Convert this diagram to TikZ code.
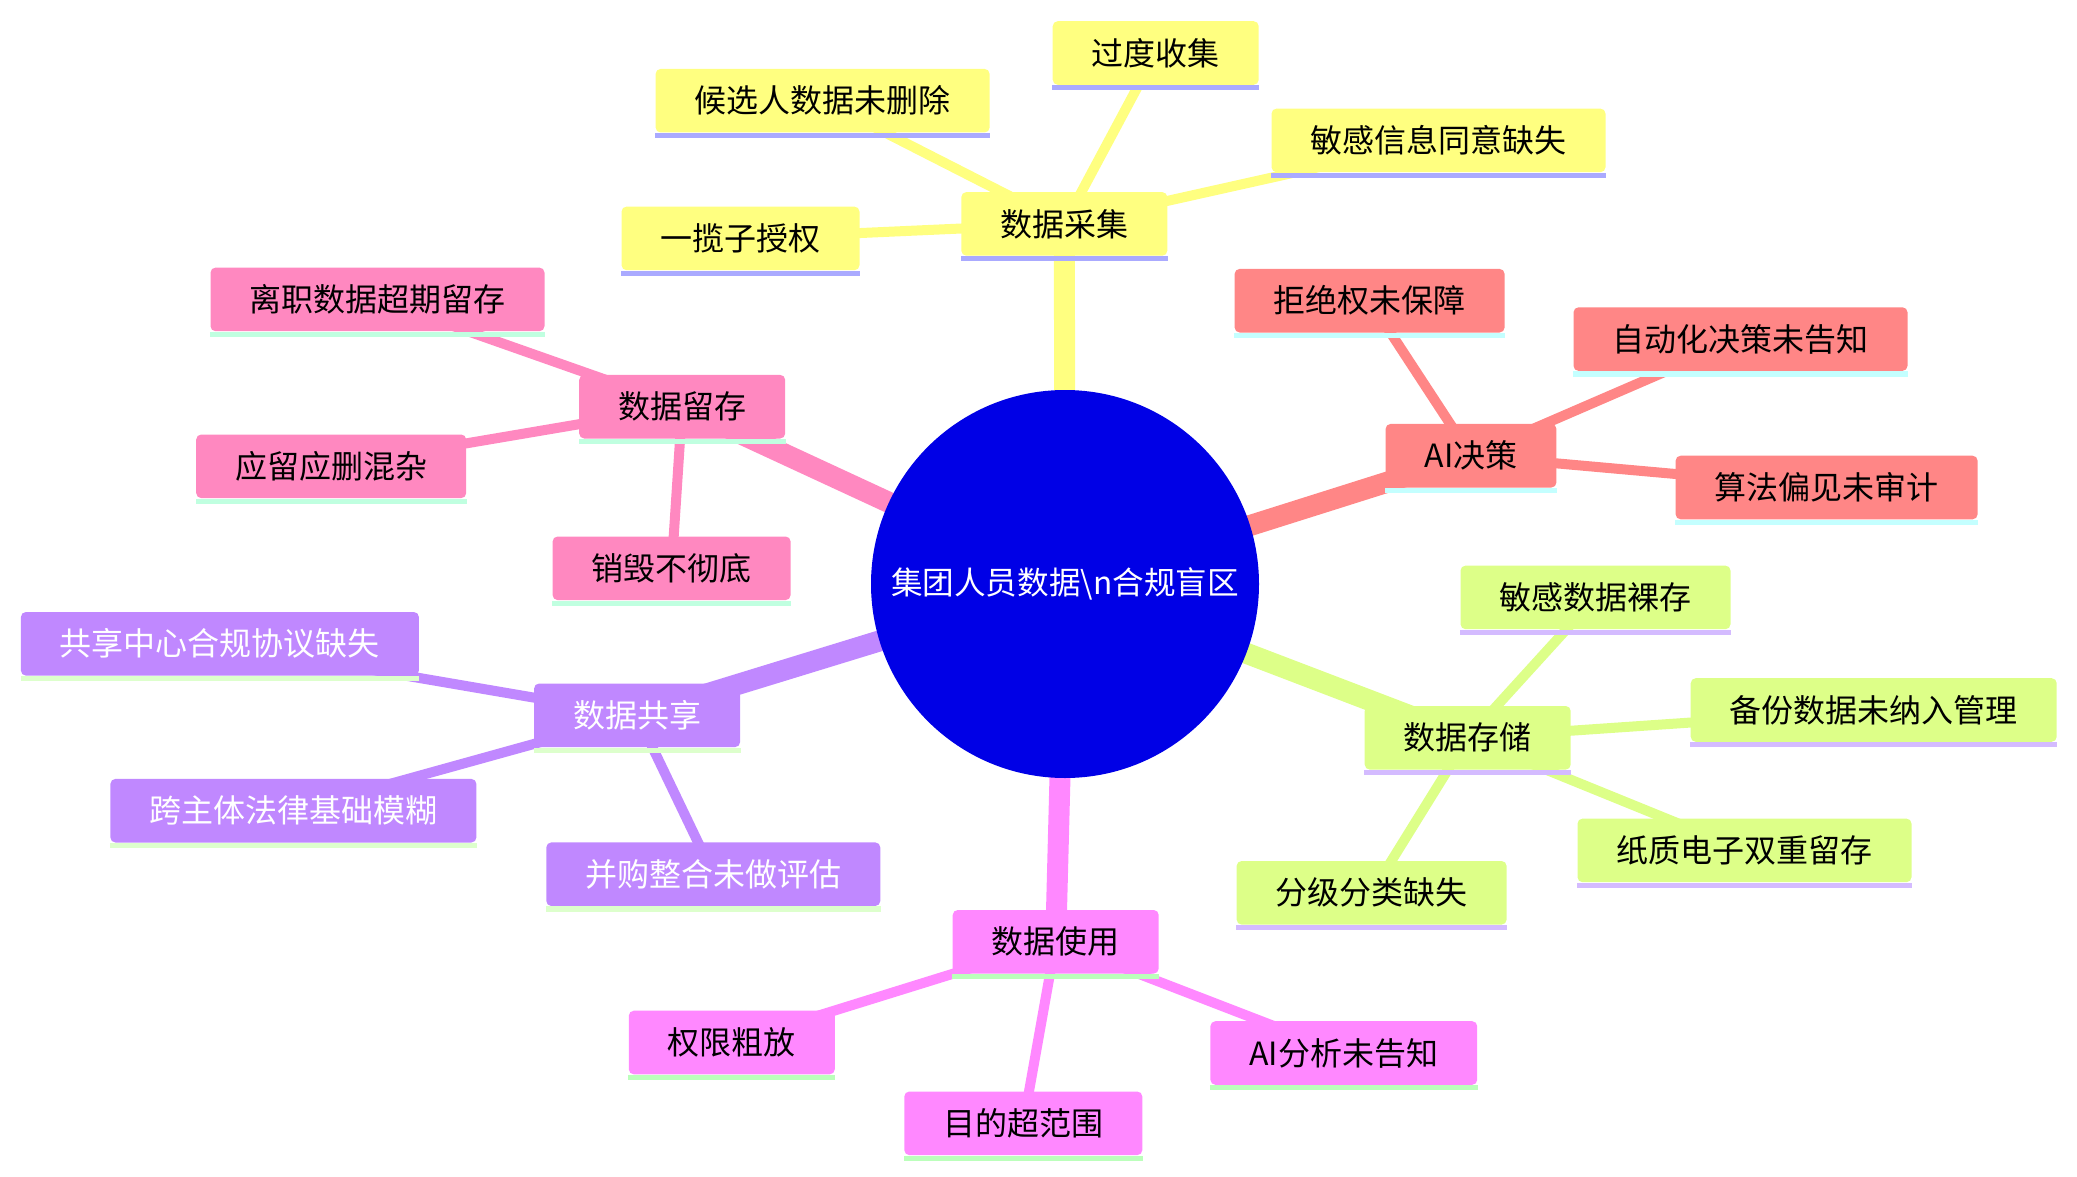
\documentclass[tikz,border=0pt]{standalone}
\usepackage{fontspec}
\setmainfont{Noto Sans CJK SC}
\usetikzlibrary{backgrounds}
\definecolor{ylw}{HTML}{FFFF80}
\definecolor{ylwU}{HTML}{AAAAFF}
\definecolor{red1}{HTML}{FF8686}
\definecolor{redU}{HTML}{C4FFFF}
\definecolor{grn}{HTML}{DDFF88}
\definecolor{grnU}{HTML}{D4BBFF}
\definecolor{mag}{HTML}{FF88FF}
\definecolor{magU}{HTML}{BBFFBB}
\definecolor{pur}{HTML}{C088FF}
\definecolor{purU}{HTML}{DDFFCC}
\definecolor{pnk}{HTML}{FF88C0}
\definecolor{pnkU}{HTML}{C0FFE0}
\definecolor{rootblue}{HTML}{0000E6}
\newcommand\mkul[2]{\fill[#2] (#1.south west) rectangle ([yshift=-2.6pt]#1.south east);}
\begin{document}
\begin{tikzpicture}[x=0.5pt,y=-0.5pt,
  box/.style={rectangle, rounded corners=2.5pt, minimum height=31.8pt, inner xsep=19.5pt, inner ysep=0pt, font=\fontsize{16}{16}\selectfont, text=black, fill=#1},
  wbox/.style={box=#1, text=white},
  trunk/.style={line width=10.5pt, draw=#1},
  twig/.style={line width=5pt, draw=#1}]
\useasboundingbox (0,0) rectangle (2077,1177);
\node[circle, fill=rootblue, minimum size=194pt, inner sep=0pt, text=white, font=\fontsize{15.8}{15.8}\selectfont] (c) at (1065,584) {集团人员数据\textbackslash n合规盲区};
% yellow
\node[box=ylw] (dc) at (1064.3,223.9) {数据采集};
\node[box=ylw] (gd) at (1155.7,53) {过度收集};
\node[box=ylw] (hx) at (822.6,100.7) {候选人数据未删除};
\node[box=ylw] (mg) at (1438.5,140.4) {敏感信息同意缺失};
\node[box=ylw] (yl) at (740.5,238.4) {一揽子授权};
% red
\node[box=red1] (ai) at (1471,455.7) {AI决策};
\node[box=red1] (jj) at (1369.6,300.7) {拒绝权未保障};
\node[box=red1] (zd) at (1740.5,339.1) {自动化决策未告知};
\node[box=red1] (sf) at (1826.6,487.5) {算法偏见未审计};
% green
\node[box=grn] (ds) at (1467.7,737.8) {数据存储};
\node[box=grn] (sx) at (1595.5,597.4) {敏感数据裸存};
\node[box=grn] (bf) at (1873.7,710) {备份数据未纳入管理};
\node[box=grn] (zz) at (1744.5,850.4) {纸质电子双重留存};
\node[box=grn] (fj) at (1371.6,892.8) {分级分类缺失};
% magenta
\node[box=mag] (sy) at (1055.7,941.8) {数据使用};
\node[box=mag] (qx) at (731.8,1042.5) {权限粗放};
\node[box=mag] (md) at (1023.3,1123.3) {目的超范围};
\node[box=mag] (af) at (1343.8,1053) {AI分析未告知};
% purple
\node[wbox=pur] (gx) at (637.1,715.3) {数据共享};
\node[wbox=pur] (gz) at (219.9,643.8) {共享中心合规协议缺失};
\node[wbox=pur] (kz) at (293.4,810.7) {跨主体法律基础模糊};
\node[wbox=pur] (bg) at (713.3,874.2) {并购整合未做评估};
% pink
\node[box=pnk] (lc) at (682.2,406.7) {数据留存};
\node[box=pnk] (lz) at (377.5,299.4) {离职数据超期留存};
\node[box=pnk] (yy) at (331.2,466.3) {应留应删混杂};
\node[box=pnk] (xh) at (671.6,568.3) {销毁不彻底};
% underlines
\foreach \n in {dc,gd,hx,mg,yl} {\mkul{\n}{ylwU}}
\foreach \n in {ai,jj,zd,sf} {\mkul{\n}{redU}}
\foreach \n in {ds,sx,bf,zz,fj} {\mkul{\n}{grnU}}
\foreach \n in {sy,qx,md,af} {\mkul{\n}{magU}}
\foreach \n in {gx,gz,kz,bg} {\mkul{\n}{purU}}
\foreach \n in {lc,lz,yy,xh} {\mkul{\n}{pnkU}}
\begin{pgfonlayer}{background}
\draw[trunk=ylw] (c.center) -- (dc.center);
\draw[trunk=red1] (c.center) -- (ai.center);
\draw[trunk=grn] (c.center) -- (ds.center);
\draw[trunk=mag] (c.center) -- (sy.center);
\draw[trunk=pur] (c.center) -- (gx.center);
\draw[trunk=pnk] (c.center) -- (lc.center);
\foreach \n in {gd,hx,mg,yl} {\draw[twig=ylw] (dc.center) -- (\n.center);}
\foreach \n in {jj,zd,sf} {\draw[twig=red1] (ai.center) -- (\n.center);}
\foreach \n in {sx,bf,zz,fj} {\draw[twig=grn] (ds.center) -- (\n.center);}
\foreach \n in {qx,md,af} {\draw[twig=mag] (sy.center) -- (\n.center);}
\foreach \n in {gz,kz,bg} {\draw[twig=pur] (gx.center) -- (\n.center);}
\foreach \n in {lz,yy,xh} {\draw[twig=pnk] (lc.center) -- (\n.center);}
\end{pgfonlayer}
\end{tikzpicture}
\end{document}
